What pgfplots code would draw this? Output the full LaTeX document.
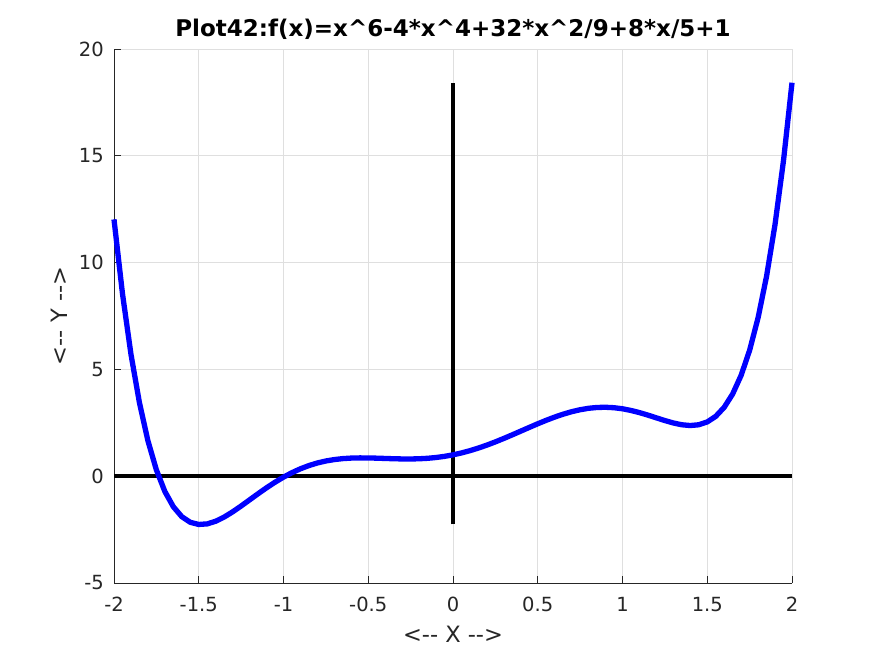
\documentclass[border=0pt]{standalone}
\usepackage{fontspec}
\setmainfont{DejaVu Sans}
\usepackage{pgfplots}
\pgfplotsset{compat=1.18}
\definecolor{axgray}{RGB}{38,38,38}
\definecolor{gridgray}{RGB}{223,223,223}
\begin{document}
\begin{tikzpicture}[x=1pt,y=1pt]
\path[use as bounding box, fill=white] (0,0) rectangle (875,656);
\begin{axis}[at={(114pt,73pt)}, anchor=south west, scale only axis,
  width=678pt, height=534pt,
  xmin=-2, xmax=2, ymin=-5, ymax=20,
  axis x line*=bottom, axis y line*=left,
  axis line style={axgray, line width=0.8pt},
  xtick={-2,-1.5,-1,-0.5,0,0.5,1,1.5,2},
  xticklabels={-2,-1.5,-1,-0.5,0,0.5,1,1.5,2},
  ytick={-5,0,5,10,15,20},
  yticklabels={-5,0,5,10,15,20},
  tick align=inside, major tick length=7pt,
  tick style={axgray, line width=0.8pt},
  grid=major, grid style={gridgray, line width=0.8pt},
  ticklabel style={font=\fontsize{19.5}{23}\selectfont, text=axgray},
  xticklabel style={anchor=north, inner sep=0pt, yshift=-14pt},
  yticklabel style={anchor=east, inner sep=0pt, xshift=-10pt},
  title={Plot42:f(x)=x\textasciicircum6-4*x\textasciicircum4+32*x\textasciicircum2/9+8*x/5+1},
  title style={at={(axis description cs:0.5,1)}, anchor=base, yshift=6pt,
    font=\bfseries\fontsize{23}{27}\selectfont, text=black},
  xlabel={<{-}{-} X {-}{-}>},
  xlabel style={at={(axis description cs:0.5,0)}, anchor=base, yshift=-59pt,
    font=\fontsize{22.5}{27}\selectfont, text=axgray},
  ylabel={<{-}{-} Y {-}{-}>},
  ylabel style={at={(axis description cs:-0.0693,0.5)}, anchor=base, rotate=0,
    font=\fontsize{22.5}{27}\selectfont, text=axgray},
  clip=false,
]
\addplot[black, line width=4pt] coordinates {(-2,0) (2,0)};
\addplot[black, line width=4pt] coordinates {(0,-2.259) (0,18.422)};
\addplot[blue, line width=5.3pt, line join=round] coordinates {
(-2,12.0222) (-1.95,8.5443) (-1.9,5.7130) (-1.85,3.4443) (-1.8,1.6618)
(-1.75,0.2962) (-1.7,-0.7153) (-1.65,-1.4288) (-1.6,-1.8950) (-1.55,-2.1586)
(-1.5,-2.2594) (-1.45,-2.2324) (-1.4,-2.1080) (-1.35,-1.9126) (-1.3,-1.6687)
(-1.25,-1.3954) (-1.2,-1.1084) (-1.15,-0.8208) (-1.1,-0.5426) (-1.05,-0.2819)
(-1,-0.0444) (-0.95,0.1660) (-0.9,0.3470) (-0.85,0.4980) (-0.8,0.6193)
(-0.75,0.7124) (-0.7,0.7795) (-0.65,0.8236) (-0.6,0.8483) (-0.55,0.8572)
(-0.5,0.8545) (-0.45,0.8443) (-0.4,0.8306) (-0.35,0.8174) (-0.3,0.8083)
(-0.25,0.8068) (-0.2,0.8159) (-0.15,0.8380) (-0.1,0.8752) (-0.05,0.9289)
(0,1) (0.05,1.0889) (0.1,1.1952) (0.15,1.3180) (0.2,1.4559)
(0.25,1.6068) (0.3,1.7683) (0.35,1.9374) (0.4,2.1106) (0.45,2.2843)
(0.5,2.4545) (0.55,2.6172) (0.6,2.7683) (0.65,2.9036) (0.7,3.0195)
(0.75,3.1124) (0.8,3.1793) (0.85,3.2180) (0.9,3.2270) (0.95,3.2060)
(1,3.1556) (1.05,3.0781) (1.1,2.9774) (1.15,2.8593) (1.2,2.7316)
(1.25,2.6046) (1.3,2.4913) (1.35,2.4074) (1.4,2.3720) (1.45,2.4077)
(1.5,2.5406) (1.55,2.8014) (1.6,3.2250) (1.65,3.8512) (1.7,4.7247)
(1.75,5.8962) (1.8,7.4218) (1.85,9.3643) (1.9,11.7930) (1.95,14.7843)
(2,18.4222)
};
\end{axis}
\end{tikzpicture}
\end{document}
